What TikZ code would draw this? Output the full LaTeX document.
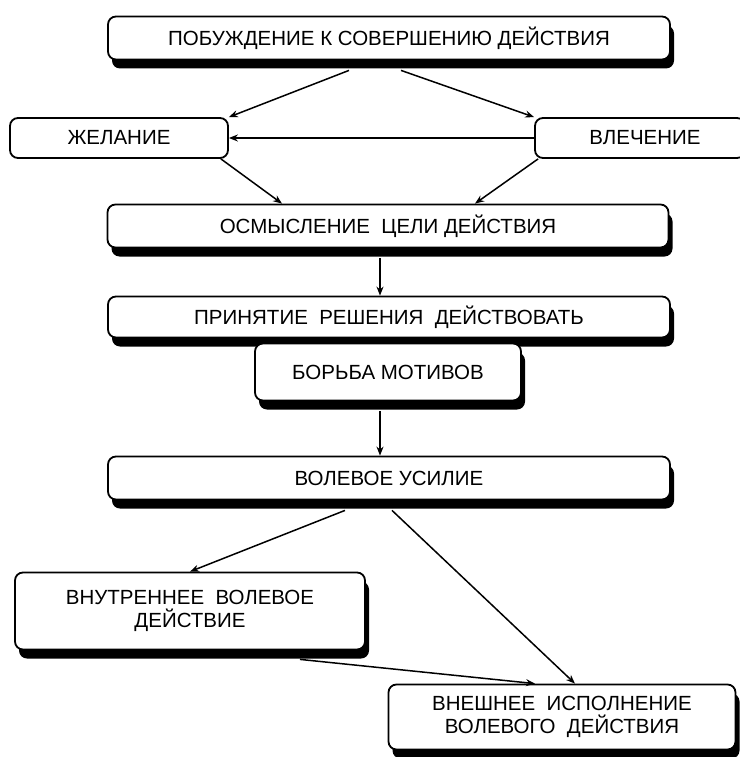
\documentclass[tikz,border=0pt]{standalone}
\usepackage{fontspec}
\setmainfont{Liberation Sans}
\usetikzlibrary{arrows.meta,shadows}
\begin{document}
\begin{tikzpicture}[x=1pt,y=1pt,
  box/.style={draw=black, line width=1.8pt, rounded corners=8pt, fill=white, align=center, inner sep=0pt, font=\fontsize{20.5}{23}\selectfont},
  shd/.style={drop shadow={shadow xshift=4pt, shadow yshift=-9pt, fill=black, opacity=1}},
  arr/.style={-{Stealth[length=9pt,width=7pt]}, line width=1.5pt}
]
\useasboundingbox (0,0) rectangle (739,-757);
\fill[white] (0,0) rectangle (739,-757);
\node[box,shd,minimum width=562pt,minimum height=43pt] (a) at (389,-38) {ПОБУЖДЕНИЕ К СОВЕРШЕНИЮ ДЕЙСТВИЯ};
\node[box,minimum width=218pt,minimum height=40pt] (b) at (119,-138) {ЖЕЛАНИЕ};
\node[box,minimum width=210pt,minimum height=40pt] (c) at (640,-138) {\hspace*{10pt}ВЛЕЧЕНИЕ};
\node[box,shd,minimum width=561pt,minimum height=43pt] (d) at (388,-226) {ОСМЫСЛЕНИЕ\ \ ЦЕЛИ ДЕЙСТВИЯ};
\node[box,shd,minimum width=562pt,minimum height=41pt] (e) at (389,-317) {ПРИНЯТИЕ\ \ РЕШЕНИЯ\ \ ДЕЙСТВОВАТЬ};
\node[box,shd,minimum width=266pt,minimum height=57pt] (f) at (388,-372) {БОРЬБА МОТИВОВ};
\node[box,shd,minimum width=562pt,minimum height=43pt] (g) at (389,-478) {ВОЛЕВОЕ УСИЛИЕ};
\node[box,shd,minimum width=350pt,minimum height=77pt] (h) at (190,-611) {ВНУТРЕННЕЕ\ \ ВОЛЕВОЕ\\ДЕЙСТВИЕ};
\node[box,shd,minimum width=347pt,minimum height=65pt] (i) at (562,-717) {ВНЕШНЕЕ\ \ ИСПОЛНЕНИЕ\\ВОЛЕВОГО\ \ ДЕЙСТВИЯ};
% connectors
\draw[arr] ([xshift=-40pt,yshift=-10pt]a.south) -- (b.north east);
\draw[arr] ([xshift=12pt,yshift=-10pt]a.south) -- (c.north west);
\draw[arr] (c.west) -- (b.east);
\draw[arr] ([xshift=-8pt]b.south east) -- ([xshift=-106pt]d.north);
\draw[arr] ([xshift=4pt]c.south west) -- ([xshift=87pt]d.north);
\draw[arr] ([xshift=-8pt,yshift=-10pt]d.south) -- ([xshift=-9pt]e.north);
\draw[arr] ([xshift=-8pt,yshift=-10pt]f.south) -- ([xshift=-9pt]g.north);
\draw[arr] ([xshift=-44pt,yshift=-10pt]g.south) -- ([xshift=0pt]h.north);
\draw[arr] ([xshift=3pt,yshift=-10pt]g.south) -- ([xshift=13pt]i.north);
\draw[arr] ([xshift=110pt,yshift=-9pt]h.south) -- ([xshift=-27pt]i.north);
\end{tikzpicture}
\end{document}
